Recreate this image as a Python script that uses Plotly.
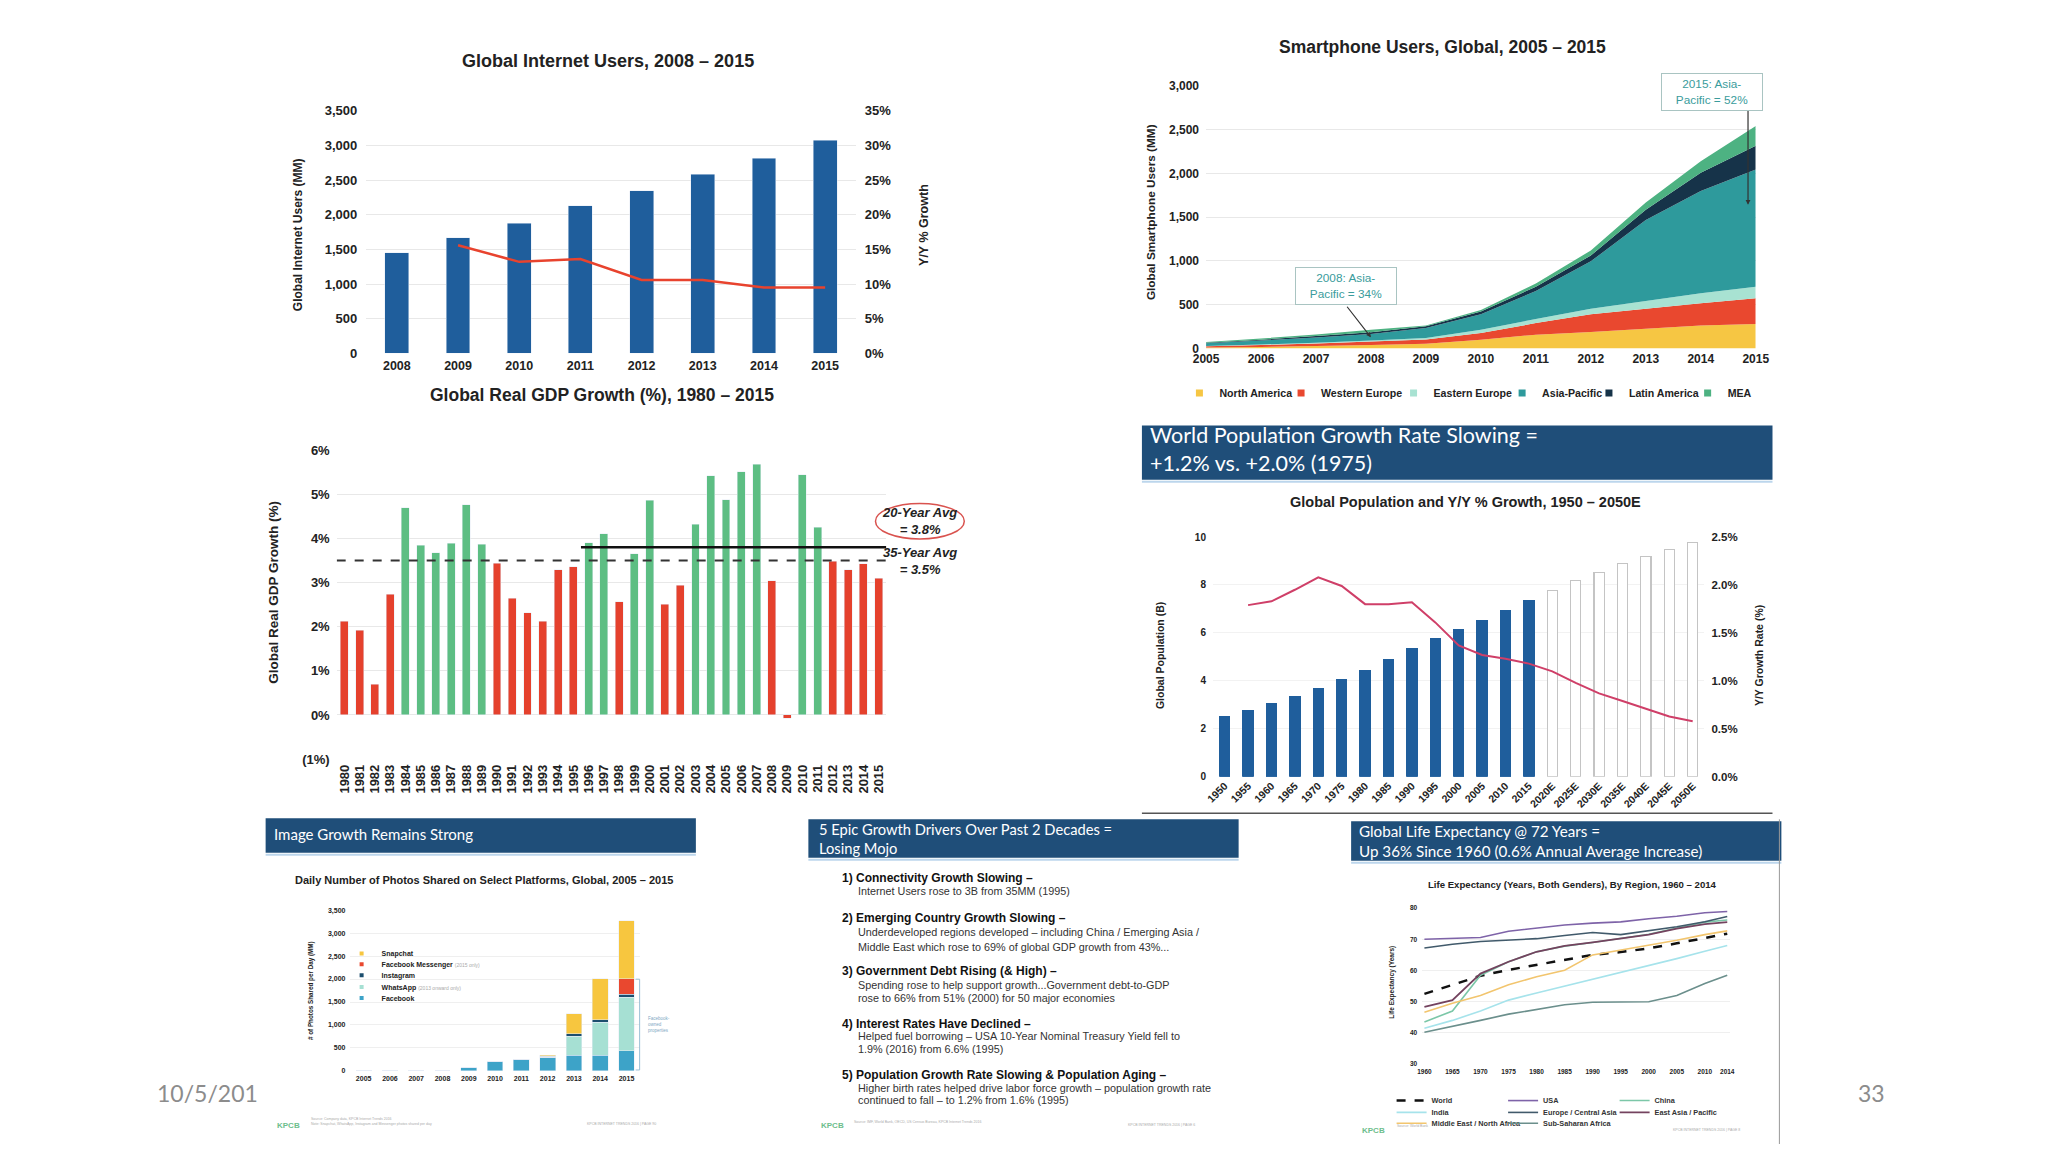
import plotly.graph_objects as go

W, H = 2048, 1152
ARIAL = "Liberation Sans, Arial, sans-serif"
HEADF = "Lato, Liberation Sans, sans-serif"
TXT = "#222222"
GRID = "#E8E8E8"
HEADER_BLUE = "#1F4E79"

# ---------------- data ----------------
# Global Internet Users
net_years = [2008, 2009, 2010, 2011, 2012, 2013, 2014, 2015]
net_users_mm = [1450, 1670, 1880, 2130, 2345, 2580, 2815, 3070]
net_growth_years = [2009, 2010, 2011, 2012, 2013, 2014, 2015]
net_growth = [0.156, 0.132, 0.136, 0.106, 0.106, 0.095, 0.095]

# Global Real GDP Growth
gdp_years = [1980, 1981, 1982, 1983, 1984, 1985, 1986, 1987, 1988, 1989,
             1990, 1991, 1992, 1993, 1994, 1995, 1996, 1997, 1998, 1999,
             2000, 2001, 2002, 2003, 2004, 2005, 2006, 2007, 2008, 2009,
             2010, 2011, 2012, 2013, 2014, 2015]
gdp_growth = [2.12, 1.92, 0.70, 2.73, 4.69, 3.84, 3.68, 3.89, 4.76, 3.87,
              3.44, 2.64, 2.32, 2.12, 3.29, 3.36, 3.90, 4.11, 2.56, 3.65,
              4.86, 2.51, 2.94, 4.32, 5.42, 4.88, 5.51, 5.68, 3.04, -0.08,
              5.44, 4.25, 3.48, 3.29, 3.43, 3.10]
gdp_avg_35 = 3.5
gdp_avg_20 = 3.8
gdp_avg_20_start = 1996
gdp_ticks = [-1, 0, 1, 2, 3, 4, 5, 6]
gdp_ticktext = ["(1%)", "0%", "1%", "2%", "3%", "4%", "5%", "6%"]

# Smartphone users (MM)
sp_years = [2005, 2006, 2007, 2008, 2009, 2010, 2011, 2012, 2013, 2014, 2015]
sp_na = [10, 18, 28, 40, 53, 100, 158, 189, 226, 264, 280]
sp_we = [15, 22, 30, 40, 49, 77, 132, 203, 227, 253, 294]
sp_ee = [4, 6, 9, 12, 19, 38, 46, 61, 90, 113, 132]
sp_ap = [30, 45, 60, 73, 113, 177, 321, 543, 925, 1170, 1339]
sp_la = [6, 10, 15, 20, 19, 31, 49, 68, 117, 208, 272]
sp_mea = [10, 14, 18, 30, 11, 17, 37, 56, 83, 132, 226]
sp_names = ["North America", "Western Europe", "Eastern Europe", "Asia-Pacific", "Latin America", "MEA"]

# World population
pop_labels = ["1950", "1955", "1960", "1965", "1970", "1975", "1980", "1985", "1990", "1995",
              "2000", "2005", "2010", "2015", "2020E", "2025E", "2030E", "2035E", "2040E",
              "2045E", "2050E"]
pop_b = [2.53, 2.77, 3.04, 3.34, 3.70, 4.07, 4.45, 4.89, 5.34, 5.75,
         6.14, 6.53, 6.95, 7.36, 7.78, 8.18, 8.52, 8.88, 9.18, 9.48, 9.77]
pop_growth_labels = ["1955", "1960", "1965", "1970", "1975", "1980", "1985", "1990", "1995",
                     "2000", "2005", "2010", "2015", "2020E", "2025E", "2030E", "2035E", "2040E",
                     "2045E", "2050E"]
pop_growth = [0.0179, 0.0183, 0.0195, 0.0208, 0.0199, 0.0180, 0.0180, 0.0182, 0.0161,
              0.0137, 0.0127, 0.0123, 0.0118, 0.0110, 0.0098, 0.0087, 0.0079, 0.0071,
              0.0063, 0.0058]

# Daily photos shared (MM)
ph_years = [2005, 2006, 2007, 2008, 2009, 2010, 2011, 2012, 2013, 2014, 2015]
ph_facebook = [0, 0, 0, 10, 70, 200, 250, 300, 345, 345, 437]
ph_whatsapp = [0, 0, 0, 0, 0, 0, 0, 0, 408, 717, 1163]
ph_instagram = [0, 0, 0, 0, 0, 0, 5, 25, 57, 50, 71]
ph_messenger = [0, 0, 0, 0, 0, 0, 0, 0, 0, 0, 337]
ph_snapchat = [0, 0, 0, 0, 0, 0, 0, 20, 430, 896, 1256]

# Life expectancy
le_years = [1960, 1965, 1970, 1975, 1980, 1985, 1990, 1995, 2000, 2005, 2010, 2014]
le_world = [52.5, 55.5, 58.3, 60.2, 61.8, 63.5, 65.0, 65.9, 67.1, 68.7, 70.3, 71.8]
le_usa = [70.0, 70.2, 70.6, 72.6, 73.6, 74.6, 75.2, 75.6, 76.6, 77.4, 78.5, 78.9]
le_china = [43.5, 47.0, 58.5, 62.8, 66.0, 67.8, 69.0, 70.2, 71.6, 73.6, 75.5, 76.2]
le_india = [41.5, 44.0, 47.0, 50.5, 52.8, 55.0, 57.3, 59.5, 61.5, 63.8, 66.2, 68.0]
le_europe = [67.2, 68.4, 69.3, 69.8, 70.2, 71.2, 72.2, 71.5, 72.7, 74.0, 75.6, 77.3]
le_eap = [48.3, 50.5, 59.0, 62.8, 66.0, 67.9, 69.0, 70.2, 71.5, 73.4, 74.9, 75.5]
le_mena = [46.6, 49.5, 52.0, 55.4, 58.0, 60.1, 65.0, 66.5, 68.1, 69.7, 71.5, 72.7]
le_ssa = [40.2, 42.0, 44.0, 46.0, 47.6, 49.0, 49.8, 49.9, 50.0, 52.0, 55.8, 58.5]


# ---------------- helpers ----------------
def fx(p):
    return p / W


def fy(p):
    return 1 - p / H


def tf(size, weight="bold", color=TXT):
    return dict(family=ARIAL, size=size, color=color, weight=weight)


annotations = []
shapes = []
legends = {}
legend_count = [0]


def txt(x, y, text, size, color=TXT, bold=False, xanchor="center", yanchor="middle",
        angle=0, family=ARIAL, align="left"):
    annotations.append(dict(
        x=fx(x), y=fy(y), xref="paper", yref="paper", text=text, showarrow=False,
        xanchor=xanchor, yanchor=yanchor, textangle=angle, align=align,
        font=dict(family=family, size=size, color=color, weight="bold" if bold else "normal")))


def new_legend(x_text, y_center, size, weight="bold", color=TXT):
    legend_count[0] += 1
    k = legend_count[0]
    key = "legend" if k == 1 else "legend%d" % k
    legends[key] = dict(
        x=fx(x_text - 40), y=fy(y_center), xanchor="left", yanchor="middle",
        orientation="h", bgcolor="rgba(0,0,0,0)", borderwidth=0,
        font=dict(family=ARIAL, size=size, color=color, weight=weight),
        itemclick=False, itemdoubleclick=False)
    return key


def header(x0, y0, x1, y1):
    shapes.append(dict(type="rect", xref="paper", yref="paper", x0=fx(x0), x1=fx(x1),
                       y0=fy(y1), y1=fy(y0), fillcolor=HEADER_BLUE, line=dict(width=0),
                       layer="below"))
    shapes.append(dict(type="line", xref="paper", yref="paper", x0=fx(x0), x1=fx(x1),
                       y0=fy(y1 + 2), y1=fy(y1 + 2), line=dict(color="#BCD6EC", width=2)))


fig = go.Figure()

# ---------------- 1. Internet users ----------------
fig.add_trace(go.Bar(x=net_years, y=net_users_mm, marker_color="#1F5E9C", width=0.39,
                     xaxis="x", yaxis="y", showlegend=False))
fig.add_trace(go.Scatter(x=net_growth_years, y=net_growth, mode="lines",
                         line=dict(color="#E8432E", width=2.5), xaxis="x", yaxis="y2",
                         showlegend=False))
txt(603, 55, "Global Internet Users, 2008 – 2015", 18, bold=True)
txt(289, 231, "Global Internet Users (MM)", 12, bold=True, angle=-90)
txt(923, 221, "Y/Y % Growth", 12.5, bold=True, angle=-90)

# ---------------- 2. GDP growth ----------------
gdp_colors = ["#5DBE83" if v >= gdp_avg_35 else "#E5412D" for v in gdp_growth]
fig.add_trace(go.Bar(x=gdp_years, y=gdp_growth, marker_color=gdp_colors, width=0.52,
                     xaxis="x2", yaxis="y3", showlegend=False))
shapes.append(dict(type="line", xref="x2", yref="y3", x0=gdp_years[0] - 0.5, x1=gdp_years[-1] + 0.5,
                   y0=gdp_avg_35, y1=gdp_avg_35, line=dict(color="#333333", width=2, dash="dash"),
                   layer="above"))
shapes.append(dict(type="line", xref="x2", yref="y3", x0=gdp_avg_20_start - 0.5, x1=gdp_years[-1] + 0.5,
                   y0=gdp_avg_20, y1=gdp_avg_20, line=dict(color="#111111", width=2.5),
                   layer="above"))
shapes.append(dict(type="circle", xref="paper", yref="paper", x0=fx(874), x1=fx(964),
                   y0=fy(539), y1=fy(503), line=dict(color="#D9534F", width=1.5)))
txt(597, 393, "Global Real GDP Growth (%), 1980 – 2015", 17.5, bold=True)
txt(264, 593, "Global Real GDP Growth (%)", 13.5, bold=True, angle=-90)
txt(919, 521, "<b><i>20-Year Avg<br>= 3.8%</i></b>", 13, align="center")
txt(919, 561, "<b><i>35-Year Avg<br>= 3.5%</i></b>", 13, align="center")

# ---------------- 3. Smartphone users ----------------
sp_series = [sp_na, sp_we, sp_ee, sp_ap, sp_la, sp_mea]
sp_colors = ["#F6C643", "#E9482F", "#A8E2D2", "#2E9A9C", "#163349", "#4DB282"]
sp_leg_marker_x = [1202, 1305, 1419, 1529, 1617, 1717]
for name, vals, col, mx in zip(sp_names, sp_series, sp_colors, sp_leg_marker_x):
    fig.add_trace(go.Scatter(x=sp_years, y=vals, stackgroup="sp", mode="none", fillcolor=col,
                             name=name, xaxis="x3", yaxis="y4", showlegend=False))
    lk = new_legend(mx + 20, 391, 10.6)
    fig.add_trace(go.Scatter(x=[None], y=[None], mode="markers", name=name,
                             marker=dict(symbol="square", size=7, color=col),
                             xaxis="x3", yaxis="y4", legend=lk, showlegend=True))
txt(1449, 41, "Smartphone Users, Global, 2005 – 2015", 17.5, bold=True)
txt(1153, 208, "Global Smartphone Users (MM)", 11.8, bold=True, angle=-90)

ap_idx08 = sp_years.index(2008)
below08 = sp_na[ap_idx08] + sp_we[ap_idx08] + sp_ee[ap_idx08]
annotations.append(dict(x=2008, y=below08 + sp_ap[ap_idx08] * 0.5, xref="x3", yref="y4", text="",
                        showarrow=True, ax=-25, ay=-32, arrowhead=2, arrowsize=0.8,
                        arrowwidth=1.2, arrowcolor="#333333"))
below15 = sp_na[-1] + sp_we[-1] + sp_ee[-1]
annotations.append(dict(x=sp_years[-1] - 0.14, y=below15 + sp_ap[-1] * 0.7, xref="x3", yref="y4",
                        text="", showarrow=True, ax=0, ay=-96, arrowhead=2, arrowsize=0.8,
                        arrowwidth=1.2, arrowcolor="#333333"))
for (bx, by, btxt) in [(1351, 283, "2008: Asia-<br>Pacific = 34%"),
                       (1722, 86, "2015: Asia-<br>Pacific = 52%")]:
    annotations.append(dict(x=fx(bx), y=fy(by), xref="paper", yref="paper", text=btxt,
                            showarrow=False, xanchor="center", yanchor="middle", align="center",
                            width=92, height=28, borderpad=4, bordercolor="#A9C4C2",
                            borderwidth=1, bgcolor="white",
                            font=dict(family=ARIAL, size=11.8, color="#3A9C9C")))

# ---------------- 4. Population ----------------
pop_fill = ["white" if lab.endswith("E") else "#1F5E9C" for lab in pop_labels]
pop_edge = ["#C4C4C4" if lab.endswith("E") else "#1F5E9C" for lab in pop_labels]
fig.add_trace(go.Bar(x=pop_labels, y=pop_b, width=0.44,
                     marker=dict(color=pop_fill, line=dict(color=pop_edge, width=1.2)),
                     xaxis="x4", yaxis="y5", showlegend=False))
fig.add_trace(go.Scatter(x=pop_growth_labels, y=pop_growth, mode="lines",
                         line=dict(color="#CF3F68", width=2), xaxis="x4", yaxis="y6",
                         showlegend=False))
header(1144, 424, 1783, 479)
txt(1150, 448, "World Population Growth Rate Slowing =<br>+1.2% vs. +2.0% (1975)", 21.5,
    color="white", xanchor="left", family=HEADF)
txt(1472, 502, "Global Population and Y/Y % Growth, 1950 – 2050E", 14.5, bold=True)
txt(1163, 657, "Global Population (B)", 10.5, bold=True, angle=-90)
txt(1770, 657, "Y/Y Growth Rate (%)", 10.5, bold=True, angle=-90)
shapes.append(dict(type="line", xref="paper", yref="paper", x0=fx(1144), x1=fx(1783),
                   y0=fy(817), y1=fy(817), line=dict(color="#555555", width=1.5)))

# ---------------- 5. Photos ----------------
ph_series = [("Facebook", ph_facebook, "#3DA3C8"),
             ("WhatsApp <span style='color:#AAAAAA;font-size:5px;font-weight:normal'>(2013 onward only)</span>", ph_whatsapp, "#A6E0D3"),
             ("Instagram", ph_instagram, "#1C4E6E"),
             ("Facebook Messenger <span style='color:#AAAAAA;font-size:5px;font-weight:normal'>(2015 only)</span>", ph_messenger, "#E9482F"),
             ("Snapchat", ph_snapchat, "#F7C63F")]
ph_leg_y = [1004, 993, 981, 970, 959]
for (name, vals, col), ly in zip(ph_series, ph_leg_y):
    fig.add_trace(go.Bar(x=ph_years, y=vals, marker_color=col, width=0.6, name=name,
                         xaxis="x5", yaxis="y7", showlegend=False))
    lk = new_legend(373, ly, 7)
    fig.add_trace(go.Scatter(x=[None], y=[None], mode="markers", name=name,
                             marker=dict(symbol="square", size=4, color=col),
                             xaxis="x5", yaxis="y7", legend=lk, showlegend=True))
header(256, 822, 692, 857)
txt(262, 838, "Image Growth Remains Strong", 15, color="white", xanchor="left", family=HEADF)
txt(477, 885, "Daily Number of Photos Shared on Select Platforms, Global, 2005 – 2015", 11, bold=True)
txt(302, 997, "# of Photos Shared per Day (MM)", 6.3, bold=True, angle=-90)
shapes.append(dict(type="path", xref="paper", yref="paper",
                   path="M %f,%f L %f,%f L %f,%f L %f,%f" % (fx(631), fy(985), fx(635), fy(985),
                                                             fx(635), fy(1077), fx(631), fy(1077)),
                   line=dict(color="#9BBFD6", width=1)))
txt(641, 1031, "Facebook-<br>owned<br>properties", 4.5, color="#7FA8C4", xanchor="left")
txt(265, 1133, "<b>KPCB</b>", 8, color="#6DBE8C", xanchor="left")
txt(300, 1129, "Source: Company data, KPCB Internet Trends 2016<br>Note: Snapchat, WhatsApp, Instagram and Messenger photos shared per day", 3.5, color="#AAAAAA", xanchor="left")
txt(580, 1132, "KPCB INTERNET TRENDS 2016 | PAGE 90", 3.5, color="#AAAAAA", xanchor="left")

# ---------------- 6. Text panel ----------------
header(806, 823, 1242, 862)
txt(815, 842, "5 Epic Growth Drivers Over Past 2 Decades =<br>Losing Mojo", 14.7, color="white",
    xanchor="left", family=HEADF)
items = [
    (882, "1) Connectivity Growth Slowing –", True),
    (896, "Internet Users rose to 3B from 35MM (1995)", False),
    (923, "2) Emerging Country Growth Slowing –", True),
    (937, "Underdeveloped regions developed – including China / Emerging Asia /", False),
    (952, "Middle East which rose to 69% of global GDP growth from 43%...", False),
    (977, "3) Government Debt Rising (& High) –", True),
    (991, "Spending rose to help support growth...Government debt-to-GDP", False),
    (1004, "rose to 66% from 51% (2000) for 50 major economies", False),
    (1030, "4) Interest Rates Have Declined –", True),
    (1043, "Helped fuel borrowing – USA 10-Year Nominal Treasury Yield fell to", False),
    (1056, "1.9% (2016) from 6.6% (1995)", False),
    (1082, "5) Population Growth Rate Slowing & Population Aging –", True),
    (1095, "Higher birth rates helped drive labor force growth – population growth rate", False),
    (1107, "continued to fall – to 1.2% from 1.6% (1995)", False),
]
for y, t, b in items:
    if b:
        txt(838, y, t, 12, color="#111111", bold=True, xanchor="left")
    else:
        txt(854, y, t, 10.8, color="#333333", xanchor="left")
txt(817, 1133, "<b>KPCB</b>", 8, color="#6DBE8C", xanchor="left")
txt(850, 1130, "Source: IMF, World Bank, OECD, US Census Bureau, KPCB Internet Trends 2016", 3.5, color="#AAAAAA", xanchor="left")
txt(1128, 1133, "KPCB INTERNET TRENDS 2016 | PAGE 6", 3.5, color="#AAAAAA", xanchor="left")

# ---------------- 7. Life expectancy ----------------
le_series = [("World", le_world, "#111111", "dash", 2.5, 1437, 1108),
             ("USA", le_usa, "#7E63A8", "solid", 1.6, 1550, 1108),
             ("China", le_china, "#7CC7A8", "solid", 1.6, 1663, 1108),
             ("India", le_india, "#A6E3EB", "solid", 1.6, 1437, 1120),
             ("Europe / Central Asia", le_europe, "#415A6B", "solid", 1.6, 1550, 1120),
             ("East Asia / Pacific", le_eap, "#74435F", "solid", 1.8, 1663, 1120),
             ("Middle East / North Africa", le_mena, "#F2C56E", "solid", 1.6, 1437, 1131),
             ("Sub-Saharan Africa", le_ssa, "#6B8F8C", "solid", 1.6, 1550, 1131)]
for name, vals, col, dash, wdt, lx, ly in le_series:
    lk = new_legend(lx, ly, 7.3, color="#333333")
    fig.add_trace(go.Scatter(x=le_years, y=vals, mode="lines", name=name,
                             line=dict(color=col, width=wdt, dash=dash),
                             xaxis="x6", yaxis="y8", legend=lk, showlegend=True))
header(1356, 825, 1792, 865)
txt(1362, 845, "Global Life Expectancy @ 72 Years =<br>Up 36% Since 1960 (0.6% Annual Average Increase)",
    15.2, color="white", xanchor="left", family=HEADF)
txt(1580, 889, "Life Expectancy (Years, Both Genders), By Region, 1960 – 2014", 9.6, bold=True)
txt(1398, 988, "Life Expectancy (Years)", 6.5, bold=True, angle=-90)
shapes.append(dict(type="line", xref="paper", yref="paper", x0=fx(1790), x1=fx(1790),
                   y0=fy(823), y1=fy(1152), line=dict(color="#999999", width=1)))
txt(1365, 1138, "<b>KPCB</b>", 8, color="#6DBE8C", xanchor="left")
txt(1400, 1134, "Source: World Bank", 3.5, color="#AAAAAA", xanchor="left")
txt(1680, 1138, "KPCB INTERNET TRENDS 2016 | PAGE 8", 3.5, color="#AAAAAA", xanchor="left")

# ---------------- slide furniture ----------------
txt(144, 1100, "10/5/201", 23, color="#8C8C8C", xanchor="left", family=HEADF)
txt(1868, 1100, "33", 23, color="#8C8C8C", xanchor="left", family=HEADF)


# ---------------- axes ----------------
def xax(d0, d1, anchor, **kw):
    base = dict(domain=[fx(d0), fx(d1)], anchor=anchor, showgrid=False, zeroline=False,
                showline=False, ticks="", fixedrange=True)
    base.update(kw)
    return base


def yax(top, bottom, anchor, **kw):
    base = dict(domain=[fy(bottom), fy(top)], anchor=anchor, showgrid=True, gridcolor=GRID,
                gridwidth=1, zeroline=False, showline=False, ticks="", fixedrange=True)
    base.update(kw)
    return base


layout = dict(
    width=W, height=H, margin=dict(l=0, r=0, t=0, b=0, pad=0),
    paper_bgcolor="white", plot_bgcolor="white", barmode="stack",
    font=dict(family=ARIAL, color=TXT), showlegend=True,
    annotations=annotations, shapes=shapes,
    xaxis=xax(358, 854, "y", range=[2007.5, 2015.5], tickvals=net_years, tickfont=tf(12.5),
              ticklabelstandoff=3),
    yaxis=yax(105, 351, "x", range=[0, 3500], dtick=500, tickformat=",", tickfont=tf(13),
              ticklabelstandoff=8),
    yaxis2=dict(overlaying="y", side="right", anchor="x", range=[0, 0.35], dtick=0.05,
                tickformat=".0%", showgrid=False, zeroline=False, ticks="", tickfont=tf(13),
                ticklabelstandoff=8, fixedrange=True),
    xaxis2=xax(328, 885, "y3", range=[1979.5, 2015.5], tickvals=gdp_years, tickangle=-90,
               tickfont=tf(13), ticklabelstandoff=2),
    yaxis3=yax(449, 762, "x2", range=[-1, 6], tickvals=gdp_ticks, ticktext=gdp_ticktext,
               tickfont=tf(13), ticklabelstandoff=6),
    xaxis3=xax(1209, 1766, "y4", range=[2005, 2015], dtick=1, tickfont=tf(12),
               ticklabelstandoff=2),
    yaxis4=yax(80, 346, "x3", range=[0, 3000], dtick=500, tickformat=",", tickfont=tf(12),
               ticklabelstandoff=6),
    xaxis4=xax(1216, 1714, "y5", type="category", range=[-0.5, 20.5], tickangle=-45,
               tickfont=tf(10.5)),
    yaxis5=yax(537, 780, "x4", range=[0, 10], dtick=2, tickfont=tf(10), gridcolor="#F2F2F2",
               ticklabelstandoff=6),
    yaxis6=dict(overlaying="y5", side="right", anchor="x4", range=[0, 0.025], dtick=0.005,
                tickformat=".1%", showgrid=False, zeroline=False, ticks="", tickfont=tf(11.5),
                ticklabelstandoff=6, fixedrange=True),
    xaxis5=xax(342, 635, "y7", range=[2004.5, 2015.5], dtick=1, tickfont=tf(7),
               ticklabelstandoff=2),
    yaxis7=yax(915, 1078, "x5", range=[0, 3500], dtick=500, tickformat=",", tickfont=tf(7),
               ticklabelstandoff=4, gridcolor="#EFEFEF"),
    xaxis6=xax(1428, 1740, "y8", range=[1959.6, 2014.5], tickvals=le_years, tickfont=tf(6.5),
               ticklabelstandoff=2),
    yaxis8=yax(913, 1071, "x6", range=[30, 80], dtick=10, tickfont=tf(6.5),
               ticklabelstandoff=4, gridcolor="#EFEFEF"),
)
layout.update(legends)
fig.update_layout(**layout)

fig.write_html("out.html", include_plotlyjs=True, config={"displayModeBar": False},
               post_script="document.body.style.margin='0';document.body.style.overflow='hidden';")
